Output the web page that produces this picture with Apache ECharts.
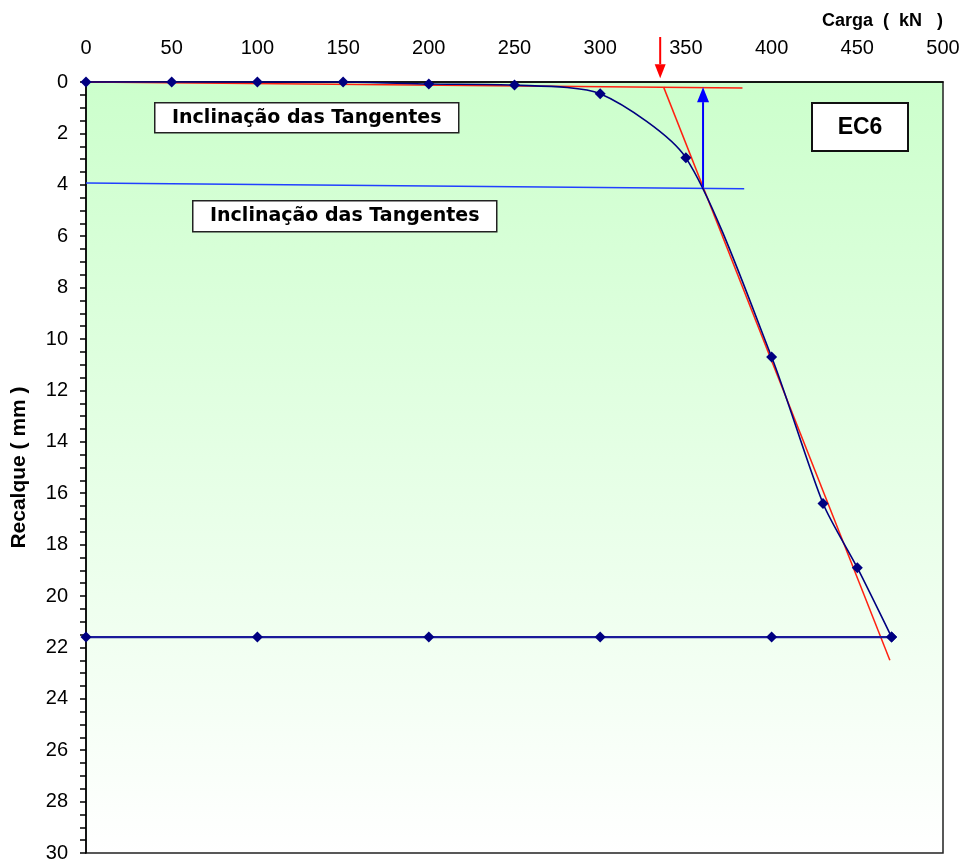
<!DOCTYPE html>
<html><head><meta charset="utf-8">
<script src="https://cdn.jsdelivr.net/npm/echarts@6/dist/echarts.min.js"></script>
<style>html,body{margin:0;padding:0;background:#fff}#c{width:967px;height:867px}</style>
</head><body><div id="c"></div>
<script>
// Load-settlement curve (Carga kN, Recalque mm)
const cargaPts   = [0, 50, 100, 150, 200, 250, 300, 350, 400, 430, 450, 470];
const recalquePts= [0, 0, 0, 0, 0.08, 0.12, 0.46, 2.95, 10.7, 16.4, 18.9, 21.6];
// Horizontal limit line
const limitCarga = [0, 100, 200, 300, 400, 470];
const limitRecalque = [21.6, 21.6, 21.6, 21.6, 21.6, 21.6];
// Tangent lines
const redTangentA = [[0, 0], [383, 0.23]];
const redTangentB = [[337, 0.2], [469, 22.5]];
const blueTangent = [[0, 3.93], [384, 4.15]];
// Arrows (from -> tip)
const blueArrow = [[360, 4.1], [360, 0.2]];
const redArrow  = [[335, -1.75], [335, -0.15]];
// Axis ticks
const xMin = 0, xMax = 500, xStep = 50;
const yMin = 0, yMax = 30, yStep = 2;
const labelBox1 = 'Inclinação das Tangentes';
const labelBox2 = 'Inclinação das Tangentes';
const tagText = 'EC6';

const FONT = '"Liberation Sans", Arial, sans-serif';
const BOXFONT = '"DejaVu Sans", Verdana, sans-serif';
const chart = echarts.init(document.getElementById('c'));
const zip = (a, b) => a.map((v, i) => [v, b[i]]);

chart.setOption({
  animation: false,
  backgroundColor: '#fff',
  textStyle: { fontFamily: FONT },
  grid: {
    left: 86, right: 24, top: 82, bottom: 14,
    outerBoundsMode: 'none', containLabel: false,
    show: true, borderColor: '#222', borderWidth: 1.5,
    backgroundColor: new echarts.graphic.LinearGradient(0, 0, 0, 1, [
      { offset: 0, color: '#ccffcc' }, { offset: 1, color: '#ffffff' }
    ])
  },
  xAxis: {
    type: 'value', position: 'top', min: xMin, max: xMax, interval: xStep,
    name: 'Carga  (  kN   )', nameLocation: 'end',
    nameTextStyle: { fontFamily: FONT, fontWeight: 'bold', fontSize: 18, color: '#000',
      align: 'right', verticalAlign: 'bottom', padding: [0, 0, 52, 0] },
    nameGap: 0,
    axisLine: { show: true, lineStyle: { color: '#000', width: 1.5 } },
    axisTick: { show: false },
    splitLine: { show: false },
    axisLabel: { fontFamily: FONT, fontSize: 20, color: '#000', margin: 24 }
  },
  yAxis: {
    type: 'value', inverse: true, min: yMin, max: yMax, interval: yStep,
    name: 'Recalque ( mm )', nameLocation: 'middle', nameGap: 56, nameRotate: 90,
    nameTextStyle: { fontFamily: FONT, fontWeight: 'bold', fontSize: 21, color: '#000' },
    axisLine: { show: true, lineStyle: { color: '#000', width: 1.5 } },
    axisTick: { show: true, inside: false, length: 6, lineStyle: { color: '#000', width: 1.5 } },
    minorTick: { show: true, splitNumber: 4, length: 6, lineStyle: { color: '#000', width: 1.5 } },
    splitLine: { show: false },
    axisLabel: { fontFamily: FONT, fontSize: 20, color: '#000', margin: 18 }
  },
  series: [
    {
      type: 'line', data: redTangentA, symbol: 'none', z: 3,
      lineStyle: { color: '#ff2010', width: 1.5 }
    },
    {
      type: 'line', data: redTangentB, symbol: 'none', z: 3,
      lineStyle: { color: '#ff2010', width: 1.5 }
    },
    {
      type: 'line', data: blueTangent, symbol: 'none', z: 3,
      lineStyle: { color: '#2040ff', width: 1.5 }
    },
    {
      type: 'line', data: zip(limitCarga, limitRecalque), symbol: 'diamond', symbolSize: 11, z: 4,
      itemStyle: { color: '#000080' }, lineStyle: { color: '#1a1a99', width: 2.2 }
    },
    {
      type: 'line', data: zip(cargaPts, recalquePts), symbol: 'diamond', symbolSize: 11, z: 5,
      smooth: 0.25, clip: false,
      itemStyle: { color: '#000080' }, lineStyle: { color: '#000080', width: 1.6 }
    }
  ],
  graphic: [
    { type: 'group', left: 154, top: 102, children: [
      { type: 'rect', shape: { x: 0, y: 0, width: 304, height: 30 },
        style: { fill: '#fff', stroke: '#222', lineWidth: 1.5 } },
      { type: 'text', style: { x: 152, y: 15, text: labelBox1, align: 'center', verticalAlign: 'middle',
        font: 'bold 19px ' + BOXFONT, fill: '#000' } }
    ]},
    { type: 'group', left: 192, top: 200, children: [
      { type: 'rect', shape: { x: 0, y: 0, width: 304, height: 31 },
        style: { fill: '#fff', stroke: '#222', lineWidth: 1.5 } },
      { type: 'text', style: { x: 152, y: 15.5, text: labelBox2, align: 'center', verticalAlign: 'middle',
        font: 'bold 19px ' + BOXFONT, fill: '#000' } }
    ]},
    { type: 'group', left: 811, top: 102, children: [
      { type: 'rect', shape: { x: 0, y: 0, width: 96, height: 48 },
        style: { fill: '#fff', stroke: '#111', lineWidth: 2 } },
      { type: 'text', style: { x: 48, y: 25, text: tagText, align: 'center', verticalAlign: 'middle',
        font: 'bold 23px ' + FONT, fill: '#000' } }
    ]}
  ]
});

// Arrows drawn through the chart's own scales
function arrow(id, pts, color, headW, headL) {
  const a = chart.convertToPixel({ gridIndex: 0 }, pts[0]);
  const b = chart.convertToPixel({ gridIndex: 0 }, pts[1]);
  const dir = Math.sign(b[1] - a[1]);
  const baseY = b[1] - dir * headL;
  return [
    { id: id + 'L', type: 'line', z: 10, shape: { x1: a[0], y1: a[1], x2: b[0], y2: baseY },
      style: { stroke: color, lineWidth: 2 } },
    { id: id + 'H', type: 'polygon', z: 10,
      shape: { points: [[b[0], b[1]], [b[0] - headW / 2, baseY], [b[0] + headW / 2, baseY]] },
      style: { fill: color } }
  ];
}
chart.setOption({ graphic: [].concat(
  arrow('blueArr', blueArrow, '#0000ff', 12, 15),
  arrow('redArr', redArrow, '#ff0000', 11, 14)
)});
</script>
</body></html>
